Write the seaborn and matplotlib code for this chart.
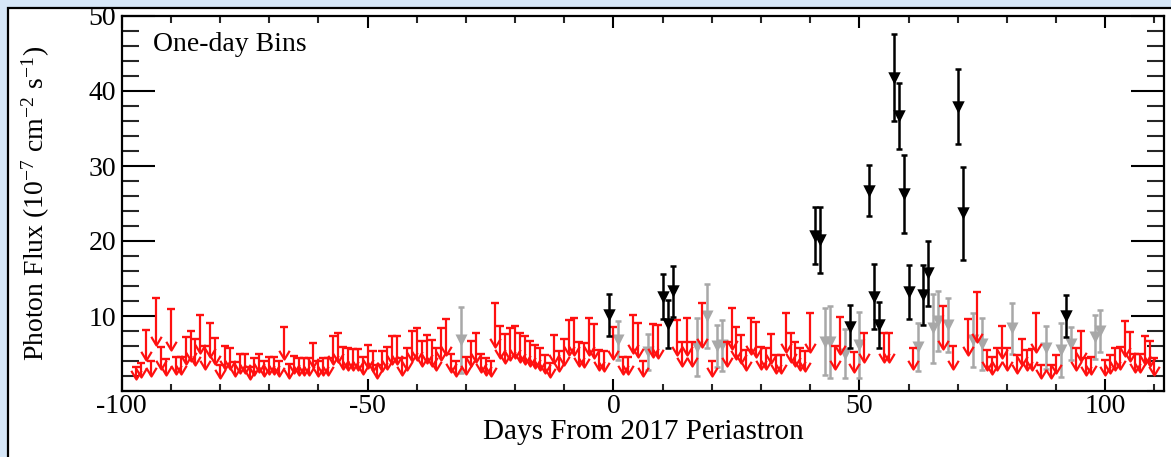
import numpy as np
import pandas as pd
import matplotlib
matplotlib.use("Agg")
import matplotlib.pyplot as plt
import seaborn as sns
from matplotlib.path import Path
from matplotlib.patches import Rectangle
from matplotlib.ticker import MultipleLocator

# ---------------- data (days from 2017 periastron, flux in 1e-7 cm^-2 s^-1) -------------
# red: 95% upper limits
ul_days = (list(range(-97, -31)) + list(range(-30, -1)) +
           [0, 2, 3, 4, 5, 6, 8, 9, 13, 14, 15, 16, 18, 20,
            23, 24, 25, 26, 27, 28, 29, 30, 31, 32, 33, 34, 35, 36, 37, 38, 39, 40,
            45, 46, 49, 51, 55, 56, 61, 67, 69, 72, 74, 76, 77, 78, 79, 80,
            82, 83, 84, 85, 86, 87, 89, 90, 94, 95, 96, 97,
            100, 101, 102, 103, 104, 105, 106, 107, 108, 109, 110])
ul_flux = [3.2, 3.8, 8.2, 4.0, 12.4, 5.9, 4.3, 10.9, 4.6, 4.6,
           7.2, 8.0, 6.9, 10.2, 6.0, 9.1, 7.1, 3.5, 6.0, 5.8,
           3.9, 4.9, 4.9, 3.2, 4.4, 5.0, 4.0, 4.6, 4.6, 4.0,
           8.5, 3.6, 4.7, 4.4, 4.4, 4.4, 6.4, 4.0, 4.4, 4.4,
           7.3, 7.8, 5.9, 5.7, 5.6, 5.6, 4.6, 6.2, 5.3, 3.5,
           5.3, 5.9, 7.3, 7.3, 4.4, 5.7, 8.0, 8.4, 6.7, 7.5,
           6.8, 5.7, 8.4, 9.6, 5.0, 4.0,
           4.6, 6.7, 7.8, 5.0, 4.4, 4.0, 11.7, 8.7, 7.6, 8.4,
           8.7, 7.8, 7.3, 6.7, 6.2, 5.7, 4.8, 3.8, 7.5, 5.3,
           7.0, 9.5, 9.7, 6.6, 6.4, 9.7, 8.9, 5.5, 5.3,
           8.6, 4.5, 4.6, 10.2, 9.1, 4.0, 9.0, 8.8, 9.5, 6.6, 9.7, 6.6, 11.7, 4.0,
           6.6, 11.1, 8.6, 7.5, 5.5, 9.8, 9.2, 5.9, 5.8, 7.6, 4.8, 4.8, 10.4, 7.7, 6.6, 5.7, 5.3, 10.4,
           6.0, 9.9, 5.2, 7.7, 7.8, 7.8, 5.8, 11.3, 6.0, 9.6, 13.2, 5.5, 4.5, 5.7, 8.7, 5.7,
           4.8, 7.0, 5.5, 5.6, 10.4, 3.5, 3.5, 4.8, 5.7, 8.0, 4.4, 4.6,
           4.2, 4.8, 5.7, 5.9, 9.3, 7.9, 5.0, 5.0, 7.3, 6.7, 4.4]

# black: significant detections
det_days = [-1, 10, 11, 12, 41, 42, 48, 52, 53, 54, 57, 58, 59, 60, 63, 64, 70, 71, 92]
det_flux = [10.2, 12.6, 9.0, 13.3, 20.7, 20.1, 8.6, 26.7, 12.6, 8.8,
            41.8, 36.7, 26.3, 13.2, 12.8, 15.7, 37.9, 23.7, 10.0]
det_err = [2.8, 3.0, 3.2, 3.4, 3.8, 4.4, 2.9, 3.4, 4.3, 3.1,
           5.8, 4.4, 5.2, 3.6, 4.0, 4.3, 5.0, 6.2, 2.8]

# grey: low-significance detections
weak_days = [-31, 1, 7, 17, 19, 21, 22, 43, 44, 47, 50, 62, 65, 66, 68, 73, 75, 81, 88, 91, 93, 98, 99]
weak_flux = [6.8, 6.8, 5.2, 5.9, 10.0, 6.0, 6.1, 6.6, 6.6, 5.0, 6.1, 5.9,
             8.4, 9.4, 8.8, 6.8, 6.3, 8.4, 5.8, 5.5, 6.3, 7.2, 8.0]
weak_err = [4.4, 2.6, 2.4, 3.9, 4.3, 2.8, 3.4, 4.5, 4.8, 3.3, 4.4, 3.2,
            4.6, 4.0, 3.6, 3.6, 3.5, 3.4, 2.9, 3.6, 2.2, 2.9, 2.8]

x_ticks = [-100, -50, 0, 50, 100]
y_ticks = [10, 20, 30, 40, 50]

# ---------------- style ----------------
sns.set_theme(style="ticks")
plt.rcParams["font.family"] = ["Liberation Serif", "DejaVu Serif"]
plt.rcParams["mathtext.fontset"] = "stix"
plt.rcParams["axes.unicode_minus"] = False

RED = "#ff1010"
GREY = "#a8a8a8"

fig = plt.figure(figsize=(11.71, 4.57), dpi=100, facecolor="#d6e7f8")
fig.patches.append(Rectangle((8 / 1171, -0.2), 1.5, 1.2 - 8 / 457,
                             transform=fig.transFigure, facecolor="white",
                             edgecolor="black", lw=1.6, zorder=-5))
ax = fig.add_axes([121.7 / 1171, 66 / 457, 1042.6 / 1171, 375 / 457])
ax.set_facecolor("white")

# upper limits: cap at the limit, line down to half, open arrowhead
ul = np.array(ul_flux)
ax.vlines(ul_days, ul * 0.5, ul, color=RED, lw=1.6, zorder=2)
ax.plot(ul_days, ul, ls="none", marker="_", ms=6, mew=1.7, color=RED, zorder=2)
vhead = Path([(-0.6, 1.0), (0.0, 0.0), (0.6, 1.0)],
             [Path.MOVETO, Path.LINETO, Path.LINETO])
ax.plot(ul_days, ul * 0.5, ls="none", marker=vhead, ms=12.5, mfc="none",
        mec=RED, mew=1.6, zorder=2)

# grey detections
weak_df = pd.DataFrame({"day": weak_days, "flux": weak_flux})
ax.errorbar(weak_days, weak_flux, yerr=weak_err, fmt="none", ecolor=GREY,
            elinewidth=1.8, capsize=2.2, capthick=1.8, zorder=1)
sns.scatterplot(data=weak_df, x="day", y="flux", marker="v", color=GREY,
                s=75, linewidth=0, ax=ax, zorder=1.5)

# black detections
det_df = pd.DataFrame({"day": det_days, "flux": det_flux})
ax.errorbar(det_days, det_flux, yerr=det_err, fmt="none", ecolor="black",
            elinewidth=1.8, capsize=2.2, capthick=1.8, zorder=3)
sns.scatterplot(data=det_df, x="day", y="flux", marker="v", color="black",
                s=80, linewidth=0, ax=ax, zorder=4)

# axes
ax.set_xlim(-100, 112)
ax.set_ylim(0, 50)
ax.set_xticks(x_ticks)
ax.set_yticks(y_ticks)
ax.xaxis.set_minor_locator(MultipleLocator(10))
ax.yaxis.set_minor_locator(MultipleLocator(2))
ax.tick_params(axis="x", which="major", direction="in", length=8.5, width=1.5,
               top=True, labelsize=20, pad=2, colors="black")
ax.tick_params(axis="x", which="minor", direction="in", length=5, width=1.5, top=True)
ax.tick_params(axis="y", which="major", direction="in", length=24, width=1.5,
               right=True, labelsize=20, pad=4, colors="black")
ax.tick_params(axis="y", which="minor", direction="in", length=12, width=1.5, right=True)
for sp in ax.spines.values():
    sp.set_linewidth(1.6)
    sp.set_color("black")

ax.set_xlabel("Days From 2017 Periastron", fontsize=21, color="black")
ax.set_ylabel(r"Photon Flux (10$^{\mathregular{-7}}$ cm$^{\mathregular{-2}}$ s$^{\mathregular{-1}}$)",
              fontsize=20, color="black")
ax.xaxis.set_label_coords(0.5, -0.075)
ax.yaxis.set_label_coords(-0.067, 0.5)

ax.text(0.030, 0.923, "One-day Bins", transform=ax.transAxes, fontsize=20,
        ha="left", va="center", color="black")

fig.savefig("out.png", dpi=100, facecolor=fig.get_facecolor())
